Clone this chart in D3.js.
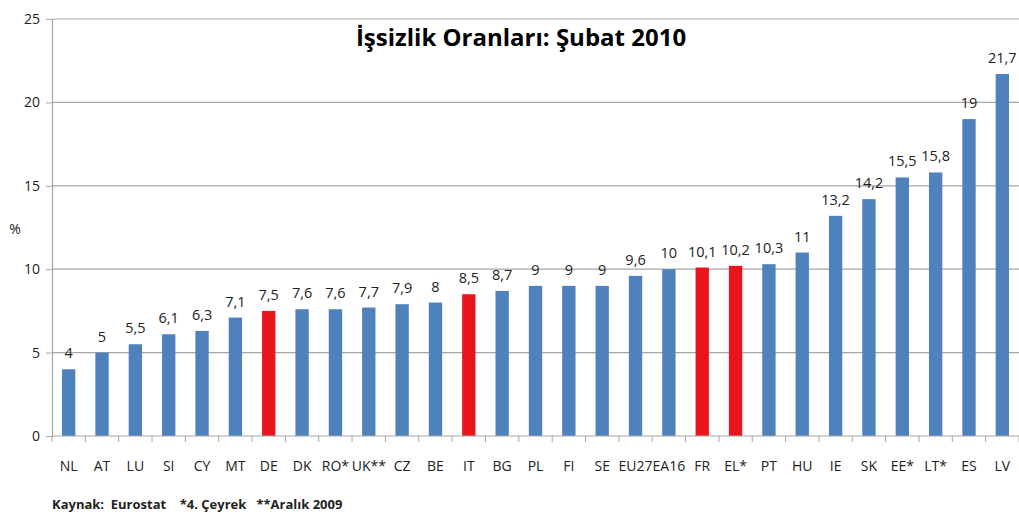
<!DOCTYPE html>
<html>
<head>
<meta charset="utf-8">
<script src="https://cdn.jsdelivr.net/npm/d3@7"></script>
<style>
  body { margin: 0; background: #fff; }
  text { font-family: "Open Sans", "Noto Sans", sans-serif; }
</style>
</head>
<body>
<div id="chart"></div>
<script>
// data
var countries = ["NL", "AT", "LU", "SI", "CY", "MT", "DE", "DK", "RO*", "UK**", "CZ", "BE", "IT", "BG", "PL", "FI", "SE", "EU27", "EA16", "FR", "EL*", "PT", "HU", "IE", "SK", "EE*", "LT*", "ES", "LV"];
var rates = [4, 5, 5.5, 6.1, 6.3, 7.1, 7.5, 7.6, 7.6, 7.7, 7.9, 8, 8.5, 8.7, 9, 9, 9, 9.6, 10, 10.1, 10.2, 10.3, 11, 13.2, 14.2, 15.5, 15.8, 19, 21.7];
var highlighted = ["DE", "IT", "FR", "EL*"];
var yTicks = [0, 5, 10, 15, 20, 25];

var svgWidth = 1019;
var svgHeight = 514;
var margin = { top: 19, right: 0, bottom: 78, left: 52 };
var width = svgWidth - margin.left - margin.right;
var height = svgHeight - margin.top - margin.bottom;

var svg = d3.select("#chart").append("svg")
  .attr("width", svgWidth)
  .attr("height", svgHeight);

var chartGroup = svg.append("g")
  .attr("transform", `translate(${margin.left}, ${margin.top})`);

var x = d3.scaleBand().domain(countries).range([0, width]).paddingInner(0.6).paddingOuter(0.3);
var y = d3.scaleLinear().domain([0, 25]).range([height, 0]);

// gridlines
chartGroup.selectAll(".grid")
  .data(yTicks.filter(d => d > 0))
  .enter().append("line")
  .attr("x1", 0).attr("x2", width)
  .attr("y1", d => y(d)).attr("y2", d => y(d))
  .attr("stroke", "#a6a6a6").attr("stroke-width", 1.2);

// y axis
var leftAxis = d3.axisLeft(y).tickValues(yTicks).tickSize(6).tickPadding(6);
var yAxis = chartGroup.append("g").call(leftAxis);
yAxis.select(".domain").attr("stroke", "#a6a6a6").attr("stroke-width", 1.2);
yAxis.selectAll(".tick line").attr("stroke", "#a6a6a6");
yAxis.selectAll("text").attr("font-size", 14).attr("fill", "#222");

// bars
chartGroup.selectAll(".bar")
  .data(countries)
  .enter().append("rect")
  .attr("x", (d) => x(d))
  .attr("width", x.bandwidth())
  .attr("y", (d, i) => y(rates[i]))
  .attr("height", (d, i) => height - y(rates[i]))
  .attr("fill", d => highlighted.includes(d) ? "#e8161c" : "#4f81bd");

// value labels
chartGroup.selectAll(".val")
  .data(countries)
  .enter().append("text")
  .attr("x", d => x(d) + x.bandwidth() / 2)
  .attr("y", (d, i) => y(rates[i]) - 11)
  .attr("text-anchor", "middle")
  .attr("font-size", 14.5)
  .attr("fill", "#222")
  .text((d, i) => String(rates[i]).replace(".", ","));

// x axis baseline and ticks between categories
chartGroup.append("line")
  .attr("x1", 0).attr("x2", width)
  .attr("y1", height).attr("y2", height)
  .attr("stroke", "#a6a6a6").attr("stroke-width", 1.2);
chartGroup.selectAll(".xtick")
  .data(d3.range(countries.length + 1))
  .enter().append("line")
  .attr("x1", i => i * width / countries.length)
  .attr("x2", i => i * width / countries.length)
  .attr("y1", height).attr("y2", height + 6)
  .attr("stroke", "#a6a6a6");

chartGroup.selectAll(".xlab")
  .data(countries)
  .enter().append("text")
  .attr("x", d => x(d) + x.bandwidth() / 2)
  .attr("y", height + 35)
  .attr("text-anchor", "middle")
  .attr("font-size", 14)
  .attr("fill", "#222")
  .text(d => d);

// title
svg.append("text")
  .attr("x", 521)
  .attr("y", 46)
  .attr("text-anchor", "middle")
  .attr("font-size", 24)
  .attr("font-weight", "bold")
  .attr("fill", "#000")
  .text("İşsizlik Oranları: Şubat 2010");

// y label
svg.append("text")
  .attr("x", 15)
  .attr("y", 234)
  .attr("text-anchor", "middle")
  .attr("font-size", 14)
  .attr("fill", "#222")
  .text("%");

// footer
svg.append("text")
  .attr("x", 52)
  .attr("y", 509)
  .attr("font-size", 13)
  .attr("font-weight", "bold")
  .attr("fill", "#222")
  .attr("xml:space", "preserve")
  .style("white-space", "pre")
  .text("Kaynak:  Eurostat    *4. Çeyrek   **Aralık 2009");
</script>
</body>
</html>
